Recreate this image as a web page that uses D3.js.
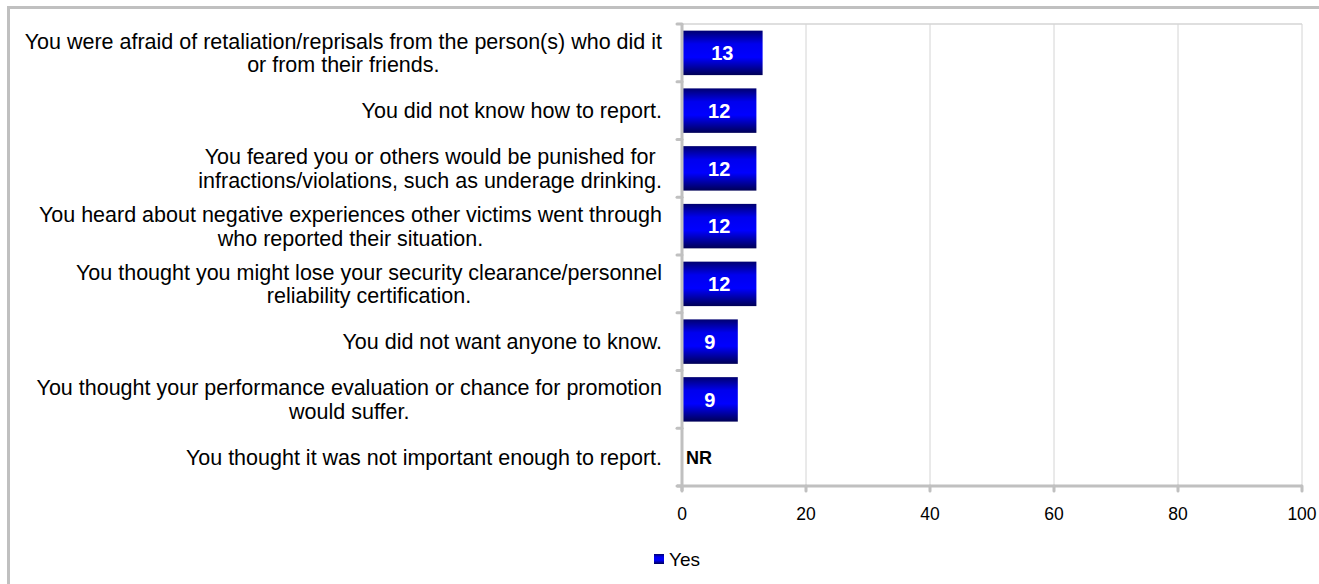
<!DOCTYPE html>
<html>
<head>
	<script src="https://cdn.jsdelivr.net/npm/d3@7"></script>
	<style>
		body { margin: 0; background: white; }
		text { font-family: "Liberation Sans", Arial, sans-serif; }
	</style>
</head>
<body>
	<script>

		// reasons for not reporting, top to bottom
		var categories = [
			["You were afraid of retaliation/reprisals from the person(s) who did it", "or from their friends."],
			["You did not know how to report."],
			["You feared you or others would be punished for", "infractions/violations, such as underage drinking."],
			["You heard about negative experiences other victims went through", "who reported their situation."],
			["You thought you might lose your security clearance/personnel", "reliability certification."],
			["You did not want anyone to know."],
			["You thought your performance evaluation or chance for promotion", "would suffer."],
			["You thought it was not important enough to report."]
		];

		// percent answering yes; null = not reportable
		var values = [13, 12, 12, 12, 12, 9, 9, null];
		var valueLabels = ["13", "12", "12", "12", "12", "9", "9", "NR"];

		var xTicks = [0, 20, 40, 60, 80, 100];
		var seriesName = "Yes";

		var width = 1319, height = 584;

		var svg = d3.select("body").append("svg")
			.attr("width", width)
			.attr("height", height);

		var defs = svg.append("defs");
		var grad = defs.append("linearGradient")
			.attr("id", "barGrad")
			.attr("x1", 0).attr("y1", 0)
			.attr("x2", 0).attr("y2", 1);
		grad.append("stop").attr("offset", "0%").attr("stop-color", "#000070");
		grad.append("stop").attr("offset", "30%").attr("stop-color", "#0000ee");
		grad.append("stop").attr("offset", "60%").attr("stop-color", "#0000ff");
		grad.append("stop").attr("offset", "100%").attr("stop-color", "#000055");

		// outer chart border (runs past the viewport on right/bottom)
		svg.append("rect")
			.attr("x", 8.5).attr("y", 7.5)
			.attr("width", 1400).attr("height", 700)
			.attr("fill", "none")
			.attr("stroke", "#c0c0c0")
			.attr("stroke-width", 3);

		var plot = { left: 682, right: 1302, top: 24, bottom: 486 };

		var x = d3.scaleLinear()
			.domain([0, 100])
			.range([plot.left, plot.right]);

		var y = d3.scaleBand()
			.domain(d3.range(categories.length))
			.range([plot.top, plot.bottom])
			.paddingInner(0.23)
			.paddingOuter(0.115);

		var yEdges = d3.scaleLinear()
			.domain([0, categories.length])
			.range([plot.top, plot.bottom]);

		var rows = values.map(function (v, i) {
			return { i: i, value: v, label: valueLabels[i], lines: categories[i] };
		});

		// gridlines
		svg.append("g")
			.selectAll("line")
			.data(xTicks.slice(1))
			.join("line")
			.attr("x1", d => x(d)).attr("x2", d => x(d))
			.attr("y1", plot.top).attr("y2", plot.bottom)
			.attr("stroke", "#d4d4d4")
			.attr("stroke-width", 1);

		// plot area top border
		svg.append("line")
			.attr("x1", plot.left).attr("x2", plot.right)
			.attr("y1", plot.top).attr("y2", plot.top)
			.attr("stroke", "#d4d4d4")
			.attr("stroke-width", 1.5);

		// bars
		svg.append("g")
			.selectAll("rect")
			.data(rows.filter(d => d.value !== null))
			.join("rect")
			.attr("x", x(0))
			.attr("y", d => y(d.i))
			.attr("width", d => x(d.value) - x(0))
			.attr("height", y.bandwidth())
			.attr("fill", "url(#barGrad)");

		// value labels
		svg.append("g")
			.selectAll("text")
			.data(rows)
			.join("text")
			.attr("x", d => d.value === null ? x(0) + 4 : (x(0) + x(d.value)) / 2)
			.attr("y", d => y(d.i) + y.bandwidth() / 2)
			.attr("dy", "0.36em")
			.attr("text-anchor", d => d.value === null ? "start" : "middle")
			.attr("font-weight", "bold")
			.attr("font-size", d => d.value === null ? 18 : 20)
			.attr("fill", d => d.value === null ? "#000" : "#fff")
			.text(d => d.label);

		// axes
		var axisColor = "#c0c0c0";

		svg.append("line")
			.attr("x1", x(0)).attr("x2", x(0))
			.attr("y1", plot.top).attr("y2", plot.bottom + 5)
			.attr("stroke", axisColor).attr("stroke-width", 3);

		svg.append("line")
			.attr("x1", x(0) - 5).attr("x2", plot.right)
			.attr("y1", plot.bottom).attr("y2", plot.bottom)
			.attr("stroke", axisColor).attr("stroke-width", 3);

		// category tick marks on the left axis
		svg.append("g")
			.selectAll("line")
			.data(d3.range(categories.length + 1))
			.join("line")
			.attr("x1", x(0) - 5).attr("x2", x(0))
			.attr("y1", d => yEdges(d)).attr("y2", d => yEdges(d))
			.attr("stroke", axisColor).attr("stroke-width", 3)
			.attr("stroke-linecap", "round");

		// value tick marks under the bottom axis
		svg.append("g")
			.selectAll("line")
			.data(xTicks)
			.join("line")
			.attr("x1", d => x(d)).attr("x2", d => x(d))
			.attr("y1", plot.bottom).attr("y2", plot.bottom + 5)
			.attr("stroke", axisColor).attr("stroke-width", 3)
			.attr("stroke-linecap", "round");

		svg.append("g")
			.selectAll("text")
			.data(xTicks)
			.join("text")
			.attr("x", d => x(d))
			.attr("y", 520)
			.attr("text-anchor", "middle")
			.attr("font-size", 17.5)
			.attr("fill", "#000")
			.text(d => d);

		// category labels: block right-aligned, lines centered within block
		var labelRight = 662;
		var lineH = 23.5;
		var catG = svg.append("g");
		rows.forEach(function (row) {
			var cy = y(row.i) + y.bandwidth() / 2;
			var texts = catG.append("g").selectAll("text")
				.data(row.lines)
				.join("text")
				.attr("y", (d, j) => cy + (j - (row.lines.length - 1) / 2) * lineH)
				.attr("dy", "0.36em")
				.attr("font-size", 21.5)
				.attr("fill", "#000")
				.attr("text-anchor", "middle")
				.text(d => d);
			var maxW = 0;
			texts.each(function () { maxW = Math.max(maxW, this.getComputedTextLength()); });
			texts.attr("x", labelRight - maxW / 2);
		});

		// legend
		var legend = svg.append("g");
		legend.append("rect")
			.attr("x", 654).attr("y", 554)
			.attr("width", 10).attr("height", 10)
			.attr("fill", "url(#barGrad)");
		legend.append("text")
			.attr("x", 669).attr("y", 559)
			.attr("dy", "0.36em")
			.attr("font-size", 19)
			.attr("fill", "#000")
			.text(seriesName);

	</script>
</body>
</html>
